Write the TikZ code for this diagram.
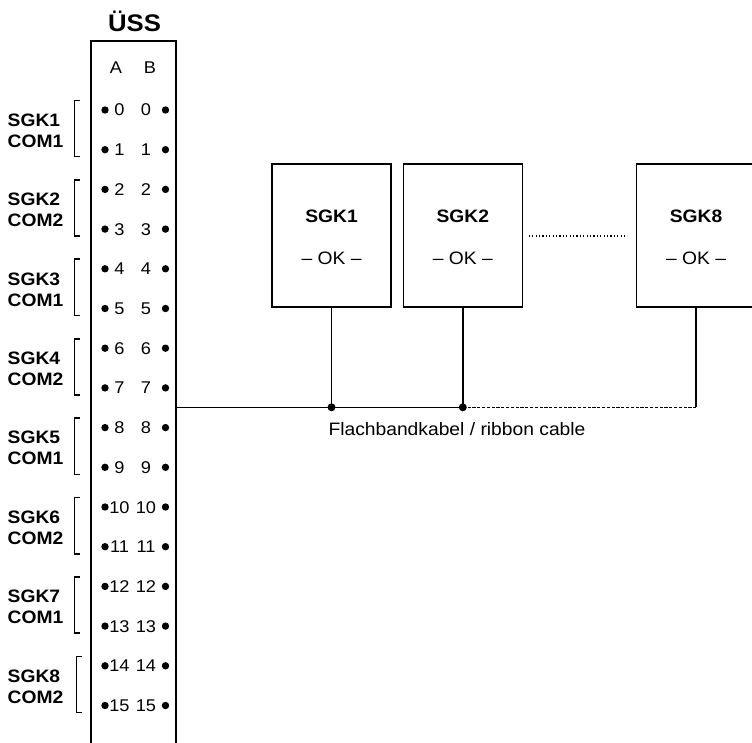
\documentclass[tikz,border=0pt]{standalone}
\usepackage{fontspec}
\setmainfont{Liberation Sans}[FakeStretch=1.07]
\begin{document}
\begin{tikzpicture}[x=1pt,y=-1pt,
  ln/.style={line width=1.6pt},
  dig/.style={font=\fontsize{17}{17}\selectfont, inner sep=0pt, anchor=base},
  pin/.style={circle, fill=black, draw=none, inner sep=0pt, minimum size=7.4pt},
  jdot/.style={circle, fill=black, draw=none, inner sep=0pt, minimum size=8pt},
  lbl/.style={font=\fontsize{18}{18}\selectfont\bfseries, inner sep=0pt, anchor=base west},
  devbox/.style={draw, line width=1.6pt, minimum width=119pt, minimum height=142.7pt, inner sep=0pt},
  devname/.style={font=\fontsize{18}{18}\selectfont\bfseries, inner sep=0pt, anchor=base},
  devok/.style={font=\fontsize{18}{18}\selectfont, inner sep=0pt, anchor=base},
  cabletxt/.style={font=\fontsize{18}{18}\selectfont, inner sep=0pt, anchor=base}
]
\useasboundingbox (0,0) rectangle (752,743);

% USS block
\node[font=\fontsize{24}{24}\selectfont\bfseries, inner sep=0pt, anchor=base] (uss) at (134.5,31.7) {ÜSS};
\coordinate (ussTL) at (91,41);
\coordinate (ussTR) at (176,41);
\coordinate (ussBL) at (91,750);
\coordinate (ussBR) at (176,750);
\draw[ln] (ussBL) -- (ussTL) -- (ussTR) -- (ussBR);
\node[dig] (colA) at (116,74) {A};
\node[dig] (colB) at (150,74) {B};

% rows
\foreach \i in {0,...,15} {
  \pgfmathsetmacro\yy{110+39.7*\i}
  \node[pin] (pa\i) at (105,\yy) {};
  \node[dig] (na\i) at (119.5,\yy+6) {\i};
  \node[dig] (nb\i) at (146,\yy+6) {\i};
  \node[pin] (pb\i) at (165.5,\yy) {};
}

% groups with brackets
\foreach \k/\c in {1/1,2/2,3/1,4/2,5/1,6/2,7/1,8/2} {
  \pgfmathsetmacro\ya{110+39.7*(2*\k-2)}
  \pgfmathsetmacro\yb{110+39.7*(2*\k-1)}
  \pgfmathsetmacro\bx{ifthenelse(\k==8,76.5,74.5)}
  \node[lbl] (sgk\k) at (7.5,\ya+16.3) {SGK\k};
  \node[lbl] (com\k) at (7.5,\ya+37.2) {COM\c};
  \draw[ln] (\bx+5.5,\ya-9.5) -- (\bx,\ya-9.5) -- (\bx,\yb+7) -- (\bx+5.5,\yb+7);
}

% devices
\node[devbox] (d1) at (331.5,235.4) {};
\node[devbox] (d2) at (462.8,235.4) {};
\node[devbox] (d8) at (696,235.4) {};
\node[devname] (d1n) at (331.5,222.5) {SGK1};
\node[devname] (d2n) at (462.8,222.5) {SGK2};
\node[devname] (d8n) at (696,222.5) {SGK8};
\node[devok] (d1o) at (331.5,265) {– OK –};
\node[devok] (d2o) at (462.8,265) {– OK –};
\node[devok] (d8o) at (696,265) {– OK –};

\draw[line width=1.2pt, dash pattern=on 1.2pt off 2.2pt] ([xshift=5.7pt]d2.east |- 0,236) -- ([xshift=-8.3pt]d8.west |- 0,236);

% ribbon cable
\coordinate (c0) at (176,407.3);
\coordinate (j1) at (331.5,407.3);
\coordinate (j2) at (462.8,407.3);
\coordinate (j8) at (696,407.3);
\draw[ln] (c0) -- (j1) -- (j2);
\draw[line width=1.4pt, dash pattern=on 3.2pt off 1.6pt] (j2) -- (j8);
\draw[ln] (d1.south) -- (j1);
\draw[ln] (d2.south) -- (j2);
\draw[ln] (d8.south) -- (j8);
\node[jdot] (j1d) at (j1) {};
\node[jdot] (j2d) at (j2) {};
\node[cabletxt] (cablelbl) at (457,435) {Flachbandkabel / ribbon cable};
\end{tikzpicture}
\end{document}
